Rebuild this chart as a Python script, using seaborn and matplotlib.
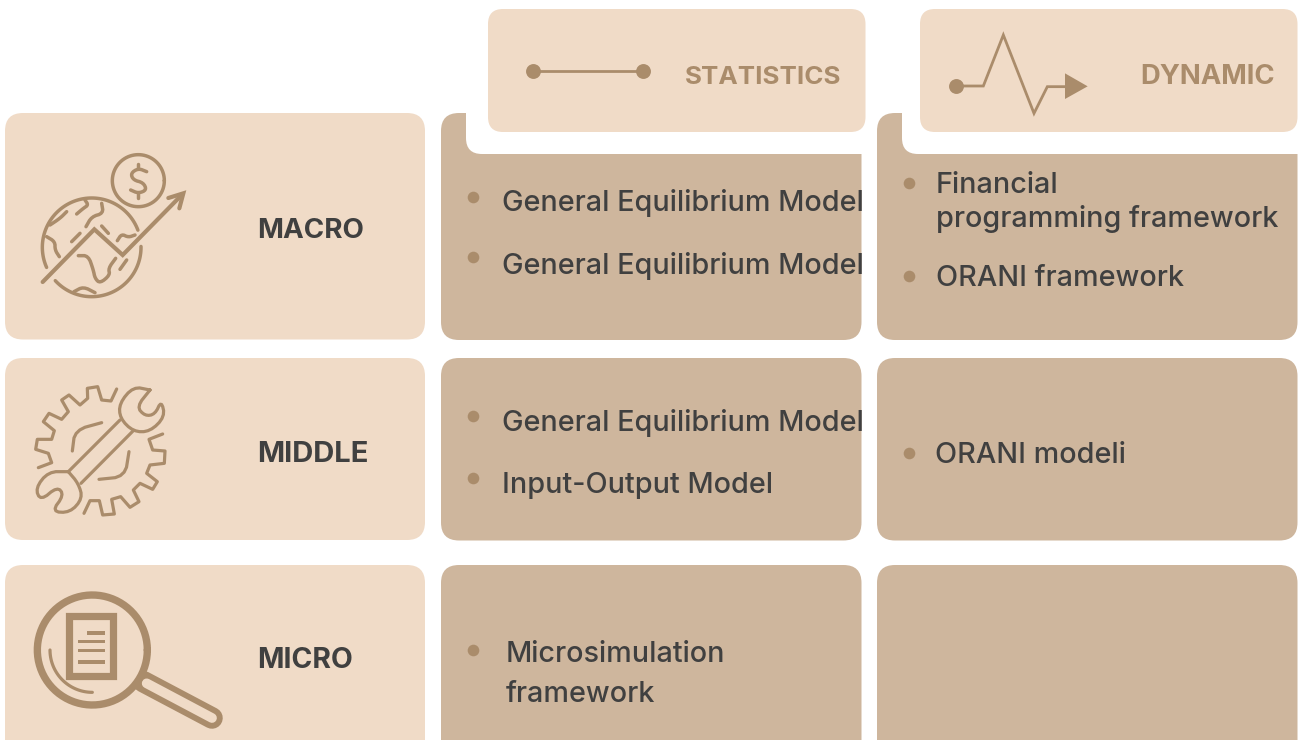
import matplotlib
matplotlib.use("Agg")
import matplotlib.pyplot as plt
import numpy as np
import pandas as pd
import seaborn as sns
from matplotlib.patches import FancyBboxPatch, Polygon, Rectangle
from matplotlib.transforms import Bbox, TransformedBbox

# ─── Data ─────────────────────────────────────────────
ROW_LABELS = ["MACRO", "MIDDLE", "MICRO"]
COL_LABELS = ["STATISTICS", "DYNAMIC"]
STAT_ITEMS = [
    ["General Equilibrium Model", "General Equilibrium Model"],
    ["General Equilibrium Model", "Input-Output Model"],
    [["Microsimulation", "framework"]],
]
DYN_ITEMS = [
    [["Financial", "programming framework"], "ORANI framework"],
    ["ORANI modeli"],
    [],
]

# ─── Layout (pixels) ──────────────────────────────────
ROW_TOP = [113, 358, 565]
ROW_BOTTOM = [339.5, 540, 760]
LABEL_BASE = [238, 462, 668]
LABEL_SIZE = [20, 21, 20.4]
COL_LEFT = [441, 877]
COL_RIGHT = [861.5, 1297.5]
STAT_BASE = [[[211], [274]], [[431], [493]], [[662, 702]]]
DYN_BASE = [[[193, 227], [286]], [[463]], []]
STAT_BULLET = [[197, 257], [416, 478], [650]]
DYN_BULLET = [[183, 276], [453], []]
STAT_TEXT_X = [[502, 502], [502, 502], [506]]
DYN_TEXT_X = [[936, 936], [935], []]
HEAD_TEXT_RIGHT = [841.5, 1274.5]
HEAD_SIZE = [18.7, 19.8]

LIGHT = "#F0DBC7"
DARK = "#CEB69D"
ICON = "#AA8C6B"
INK = "#404040"
BODY_FONT = ["Inter", "Open Sans", "DejaVu Sans"]

sns.set_theme(style="white")
plt.rcParams["font.family"] = BODY_FONT

fig = plt.figure(figsize=(12.98, 7.4), dpi=100)
ax = fig.add_axes([0, 0, 1, 1])
ax.set_xlim(0, 1298)
ax.set_ylim(740, 0)
ax.axis("off")


def box(x0, y0, x1, y1, color, radius=15, z=1):
    ax.add_patch(FancyBboxPatch(
        (x0, y0), x1 - x0, y1 - y0,
        boxstyle=f"round,pad=0,rounding_size={radius}",
        fc=color, ec="none", zorder=z,
    ))


def chaikin(pts, n=2):
    pts = np.asarray(pts, float)
    for _ in range(n):
        q = pts[:-1] * 0.75 + pts[1:] * 0.25
        r = pts[:-1] * 0.25 + pts[1:] * 0.75
        mid = np.empty((len(q) * 2, 2))
        mid[0::2] = q
        mid[1::2] = r
        pts = np.vstack([pts[0], mid, pts[-1]])
    return pts


def arc(cx, cy, r, a0, a1):
    t = np.radians(np.linspace(a0, a1, 80))
    return np.column_stack([cx + r * np.cos(t), cy + r * np.sin(t)])


def stroke(pts, origin, lw=2.5, smooth=False, color=ICON, join="round", z=4):
    pts = chaikin(pts) if smooth else np.asarray(pts, float)
    pts = pts / 3 + origin
    ax.plot(pts[:, 0], pts[:, 1], color=color, lw=lw, solid_capstyle="round",
            solid_joinstyle=join, zorder=z)


# ─── Boxes ────────────────────────────────────────────
for top, bottom in zip(ROW_TOP, ROW_BOTTOM):
    box(5, top, 425, bottom, LIGHT, 18)
    for left, right in zip(COL_LEFT, COL_RIGHT):
        box(left, top, right, bottom + 0.5, DARK, 18)

# white notch under the header tabs, square on the right side
box(466, 80, 560, 154, "white", 16, z=2)
ax.add_patch(Rectangle((500, 80), 370, 74, fc="white", ec="none", zorder=2))
box(902, 80, 1000, 154, "white", 16, z=2)
ax.add_patch(Rectangle((936, 80), 370, 74, fc="white", ec="none", zorder=2))
box(488, 9, 865.5, 132, LIGHT, 15, z=3)
box(920, 9, 1297.5, 132, LIGHT, 15, z=3)

# ─── Text ─────────────────────────────────────────────
for label, base, size in zip(ROW_LABELS, LABEL_BASE, LABEL_SIZE):
    ax.text(257, base, label, color=INK, fontsize=size, fontweight="bold", zorder=5)
for label, right, size in zip(COL_LABELS, HEAD_TEXT_RIGHT, HEAD_SIZE):
    ax.text(right, 84, label, color=ICON, fontsize=size, fontweight="bold", ha="right", zorder=5)

bullet_x, bullet_y = [], []
for c, (items, bases, xs, bullets) in enumerate([
    (STAT_ITEMS, STAT_BASE, STAT_TEXT_X, STAT_BULLET),
    (DYN_ITEMS, DYN_BASE, DYN_TEXT_X, DYN_BULLET),
]):
    for r in range(3):
        clip = TransformedBbox(
            Bbox([[COL_LEFT[c], ROW_TOP[r]], [COL_RIGHT[c] + 1.5, ROW_BOTTOM[r]]]), ax.transData
        )
        for item, base, x, by in zip(items[r], bases[r], xs[r], bullets[r]):
            lines = item if isinstance(item, list) else [item]
            for line, y in zip(lines, base):
                t = ax.text(x, y, line, color=INK, fontsize=20.7, fontweight="medium", zorder=5)
                t.set_clip_box(clip)
                t.set_clip_on(True)
            bullet_x.append(COL_LEFT[c] + 32)
            bullet_y.append(by)

bullets_df = pd.DataFrame({"x": bullet_x, "y": bullet_y})
sns.scatterplot(data=bullets_df, x="x", y="y", color=ICON, s=70, linewidth=0, ax=ax, zorder=5)

# ─── Header icons ─────────────────────────────────────
ax.plot([533, 643], [70.5, 70.5], color=ICON, lw=2.0, zorder=4)
dots_df = pd.DataFrame({"x": [533, 643, 956], "y": [70.5, 70.5, 86]})
sns.scatterplot(data=dots_df, x="x", y="y", color=ICON, s=115, linewidth=0, ax=ax, zorder=5)
ax.set_xlim(0, 1298)
ax.set_ylim(740, 0)
ax.axis("off")

o = np.array([870, 0])
stroke([(258, 258), (340, 258), (400, 105), (492, 340), (532, 260), (600, 260)], o, lw=2.0, join="miter")
ax.add_patch(Polygon(np.array([(585, 220), (585, 297), (653, 259)]) / 3 + o, fc=ICON, ec="none", zorder=4))

# ─── Globe icon ───────────────────────────────────────
o = np.array([0, 110])
stroke(arc(275, 412, 148, 156, 339.6), o)
stroke(arc(275, 412, 148, -1, 137.5), o)
stroke(arc(415, 212, 78, 0, 360), o)
stroke([(128, 516), (283, 358), (368, 435), (545, 255)], o, lw=3.0, join="miter")
stroke([(505, 264), (550, 250), (538, 295)], o, lw=3.0, join="miter")
for seg in [
    [(230, 312), (250, 295), (265, 285), (255, 270)],
    [(258, 350), (275, 320), (310, 310), (305, 280)],
    [(150, 345), (180, 325), (200, 305)],
    [(140, 380), (165, 395), (165, 420), (178, 440)],
    [(215, 395), (240, 370)],
    [(305, 348), (325, 370)],
    [(352, 392), (365, 372), (385, 382), (405, 375)],
    [(235, 437), (265, 437), (280, 480), (285, 505), (300, 520), (330, 495), (325, 475), (347, 445)],
    [(360, 478), (380, 450)],
    [(222, 545), (250, 530), (285, 548)],
]:
    stroke(seg, o, smooth=True)
# dollar sign
stroke([(440, 185), (415, 175), (392, 190), (400, 210), (430, 218), (440, 240), (415, 250), (392, 240)], o, smooth=True)
stroke([(415, 162), (415, 175)], o)
stroke([(415, 250), (415, 263)], o)

# ─── Wrench and gear icon ─────────────────────────────
o = np.array([0, 370])
stroke([(350, 57), (333, 93), (305, 90), (293, 50), (262, 55), (263, 85), (240, 105), (207, 75), (185, 90),
        (205, 125), (185, 148), (147, 130), (130, 155), (163, 182), (155, 208), (112, 208), (107, 238),
        (145, 250), (155, 278), (115, 293)], o, lw=2.3)
stroke([(488, 192), (447, 208), (458, 240), (495, 243), (493, 280), (450, 285), (440, 310), (472, 335),
        (458, 358), (420, 340), (400, 360), (417, 395), (390, 412), (362, 380), (335, 388), (343, 432),
        (308, 435), (298, 392), (270, 392), (252, 430)], o, lw=2.3)
stroke([(450, 60), (400, 50), (358, 100), (360, 145), (400, 185), (450, 185), (495, 140), (484, 92),
        (465, 133), (435, 138), (410, 110), (450, 60)], o, lw=2.3, smooth=True)
stroke([(360, 150), (205, 305)], o, lw=2.3)
stroke([(400, 182), (243, 340)], o, lw=2.3)
stroke([(205, 305), (145, 305), (106, 355), (122, 392), (172, 350), (192, 375), (155, 425), (210, 428),
        (248, 385), (235, 340), (205, 305)], o, lw=2.3, smooth=True)
stroke([(217, 243), (225, 180), (305, 158)], o, lw=2.3, smooth=True)
stroke([(297, 328), (375, 320), (387, 245)], o, lw=2.3, smooth=True)

# ─── Magnifier icon ───────────────────────────────────
o = np.array([0, 570])
hs = np.array([(430, 335), (636, 444)]) / 3 + o
ax.plot(hs[:, 0], hs[:, 1], color=ICON, lw=15.5, solid_capstyle="round", zorder=4)
hs = np.array([(440, 340), (636, 444)]) / 3 + o
ax.plot(hs[:, 0], hs[:, 1], color=LIGHT, lw=7, solid_capstyle="round", zorder=4)
ring = arc(277, 240, 165, 0, 360) / 3 + o
ax.fill(ring[:, 0], ring[:, 1], color=LIGHT, zorder=4)
ax.plot(ring[:, 0], ring[:, 1], color=ICON, lw=5.3, zorder=4)
ax.add_patch(Rectangle((o[0] + 206 / 3, o[1] + 138.5 / 3), 133 / 3, 178 / 3, fc="none", ec=ICON, lw=5.2,
                       joinstyle="miter", zorder=5))
for x0, x1, y in [(262, 315, 188), (234, 315, 214), (234, 315, 241), (234, 315, 275)]:
    ax.add_patch(Rectangle((o[0] + x0 / 3, o[1] + (y - 5.5) / 3), (x1 - x0) / 3, 11 / 3, fc=ICON, ec="none", zorder=5))
stroke(arc(277, 240, 127, 180, 90), o, lw=2.3, z=5)

plt.savefig("out.png", dpi=100)
plt.close()
